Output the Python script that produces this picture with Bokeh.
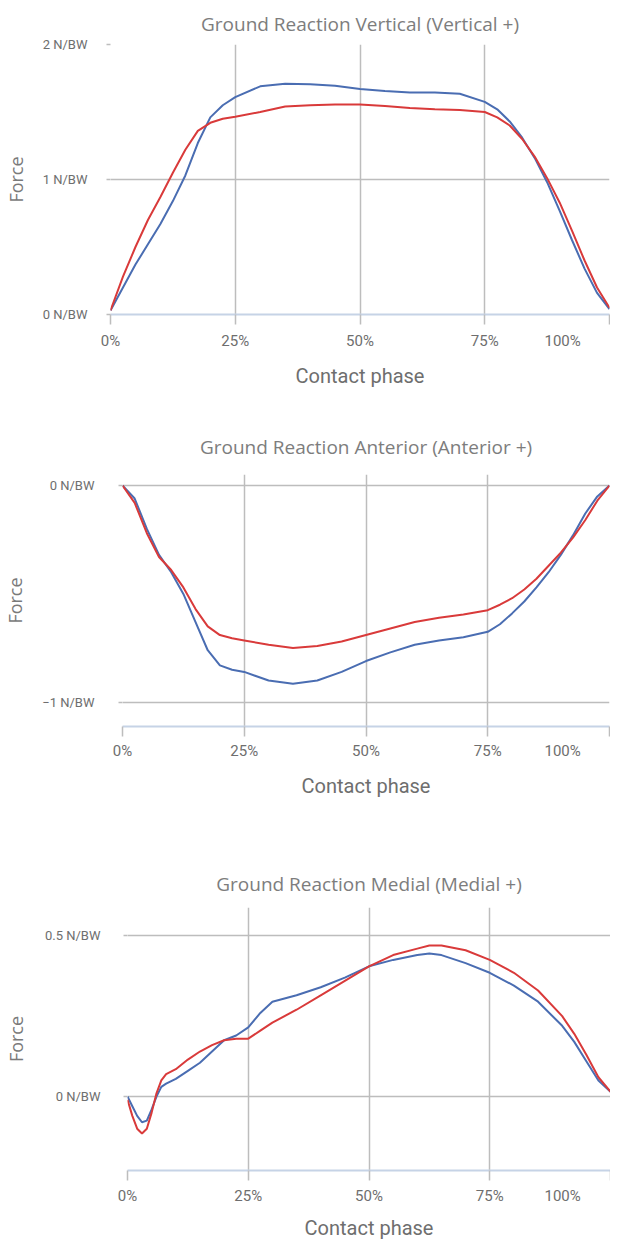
from bokeh.plotting import figure
from bokeh.models import FixedTicker, Range1d
from bokeh.embed import file_html
from bokeh.resources import INLINE

# ---------------- data ----------------
x_vert = [0, 2.5, 5, 7.5, 10, 12.5, 15, 17.5, 20, 22.5, 25, 30, 35, 40, 45, 50, 55, 60, 65, 70,
          75, 77.5, 80, 82.5, 85, 87.5, 90, 92.5, 95, 97.5, 100]
vert_blue = [0.03, 0.2, 0.37, 0.52, 0.67, 0.84, 1.03, 1.27, 1.46, 1.55, 1.61, 1.69, 1.71, 1.705, 1.695,
             1.67, 1.655, 1.645, 1.645, 1.635, 1.575, 1.52, 1.43, 1.31, 1.16, 0.98, 0.77, 0.55, 0.34, 0.16, 0.04]
vert_red = [0.03, 0.28, 0.5, 0.7, 0.87, 1.05, 1.22, 1.36, 1.42, 1.45, 1.465, 1.5, 1.54, 1.55, 1.555,
            1.555, 1.545, 1.53, 1.52, 1.515, 1.5, 1.46, 1.4, 1.3, 1.17, 1.01, 0.83, 0.62, 0.4, 0.2, 0.05]

x_ant = [0, 2.5, 5, 7.5, 10, 12.5, 15, 17.5, 20, 22.5, 25, 30, 35, 40, 45, 50, 55, 60, 65, 70,
         75, 77.5, 80, 82.5, 85, 87.5, 90, 92.5, 95, 97.5, 100]
ant_blue = [0, -0.06, -0.2, -0.32, -0.4, -0.5, -0.63, -0.76, -0.83, -0.85, -0.86, -0.9, -0.915, -0.9, -0.86,
            -0.81, -0.77, -0.735, -0.715, -0.7, -0.675, -0.64, -0.59, -0.535, -0.47, -0.4, -0.32, -0.23,
            -0.13, -0.05, 0]
ant_red = [0, -0.08, -0.22, -0.33, -0.39, -0.47, -0.57, -0.65, -0.69, -0.705, -0.715, -0.735, -0.75, -0.74,
           -0.72, -0.69, -0.66, -0.63, -0.61, -0.595, -0.575, -0.55, -0.52, -0.48, -0.43, -0.37, -0.31,
           -0.24, -0.16, -0.07, 0]

x_med = [0, 1, 2, 3, 4, 5, 6, 7, 8, 10, 12.5, 15, 17.5, 20, 22.5, 25, 27.5, 30, 35, 40, 45, 50, 55, 60,
         62.5, 65, 70, 75, 80, 85, 90, 92.5, 95, 97.5, 100]
med_blue = [0.0, -0.03, -0.06, -0.08, -0.075, -0.04, 0.0, 0.03, 0.04, 0.055, 0.08, 0.105, 0.14, 0.175, 0.19,
            0.215, 0.26, 0.295, 0.315, 0.34, 0.37, 0.405, 0.425, 0.44, 0.445, 0.44, 0.415, 0.385, 0.345,
            0.295, 0.22, 0.17, 0.11, 0.05, 0.015]
med_red = [-0.01, -0.06, -0.1, -0.115, -0.1, -0.05, 0.01, 0.05, 0.07, 0.085, 0.115, 0.14, 0.16, 0.175, 0.18,
           0.18, 0.205, 0.23, 0.27, 0.315, 0.36, 0.405, 0.44, 0.46, 0.47, 0.47, 0.455, 0.425, 0.385, 0.33,
           0.25, 0.195, 0.13, 0.06, 0.015]

x_ticks = [0, 25, 50, 75, 100]
x_tick_labels = ["0%", "25%", "50%", "75%", "100%"]

titles = ["Ground Reaction Vertical (Vertical +)",
          "Ground Reaction Anterior (Anterior +)",
          "Ground Reaction Medial (Medial +)"]
y_ticks = [[0, 1, 2], [-1, 0], [0, 0.5]]
y_tick_labels = [["0 N/BW", "1 N/BW", "2 N/BW"], ["\u22121 N/BW", "0 N/BW"], ["0 N/BW", "0.5 N/BW"]]

BLUE = "#4a6db2"
RED = "#d93a3a"
GRID = "#bdbdbd"
TICKFONT = "Roboto"
W = 610


def make(i, xs, blue, red, y0, y1, left, right, top, bottom, total_h, standoff,
         y_label_standoff, y_tick_standoff, last_pad, x_tick_standoff, x_label_standoff):
    p = figure(width=W, height=total_h,
               output_backend="svg", toolbar_location=None,
               x_range=Range1d(0, 100), y_range=Range1d(y0, y1),
               min_border_left=left, min_border_top=top, min_border_bottom=bottom, min_border_right=right)
    p.title.text = titles[i]
    p.title.align = "center"
    p.title.text_font = "Open Sans"
    p.title.text_font_size = "19px"
    p.title.text_font_style = "normal"
    p.title.text_color = "#7d7d7d"
    p.title.standoff = standoff
    p.outline_line_color = None
    p.background_fill_color = "white"

    p.xgrid.ticker = FixedTicker(ticks=x_ticks)
    p.ygrid.ticker = FixedTicker(ticks=y_ticks[i])
    for g in (p.xgrid, p.ygrid):
        g.grid_line_color = GRID
        g.grid_line_width = 1.5

    labels = list(x_tick_labels)
    labels[-1] = labels[-1] + "\u00a0" * last_pad
    xa = p.xaxis[0]
    xa.ticker = FixedTicker(ticks=x_ticks)
    xa.major_label_overrides = {t: l for t, l in zip(x_ticks, labels)}
    xa.axis_line_color = "#c6d3e6"
    xa.axis_line_width = 2
    xa.major_tick_line_color = GRID
    xa.major_tick_line_width = 1.5
    xa.major_tick_out = 10
    xa.major_tick_in = 0
    xa.minor_tick_line_color = None
    xa.major_label_text_font = TICKFONT
    xa.major_label_text_font_size = "15px"
    xa.major_label_text_color = "#6e6e6e"
    xa.major_label_standoff = x_tick_standoff
    xa.axis_label = "Contact phase"
    xa.axis_label_text_font = TICKFONT
    xa.axis_label_text_font_size = "20px"
    xa.axis_label_text_font_style = "normal"
    xa.axis_label_text_color = "#6e6e6e"
    xa.axis_label_standoff = x_label_standoff

    ya = p.yaxis[0]
    ya.ticker = FixedTicker(ticks=y_ticks[i])
    ya.major_label_overrides = {t: l for t, l in zip(y_ticks[i], y_tick_labels[i])}
    ya.axis_line_color = None
    ya.major_tick_line_color = GRID
    ya.major_tick_line_width = 1.5
    ya.major_tick_out = 4
    ya.major_tick_in = 0
    ya.minor_tick_line_color = None
    ya.major_label_text_font = TICKFONT
    ya.major_label_text_font_size = "13px"
    ya.major_label_text_color = "#6e6e6e"
    ya.major_label_standoff = y_tick_standoff
    ya.axis_label = "Force"
    ya.axis_label_text_font = "Open Sans"
    ya.axis_label_text_font_size = "18px"
    ya.axis_label_text_font_style = "normal"
    ya.axis_label_text_color = "#7a7a7a"
    ya.axis_label_standoff = y_label_standoff

    p.line(xs, blue, line_color=BLUE, line_width=2)
    p.line(xs, red, line_color=RED, line_width=2)
    return p


p1 = make(0, x_vert, vert_blue, vert_red, 0, 2, 105, 1, 38, 80, 394, 16, 12, 19, 8, 7, 11)
p2 = make(1, x_ant, ant_blue, ant_red, -1.112, 0.051, 115, 1, 80, 80, 412, 30, 12, 24, 8, 5, 11)
p3 = make(2, x_med, med_blue, med_red, -0.23, 0.588, 122, 0, 101, 66, 436, 22, 14, 23, 8, 6, 8)

open("out.html", "w").write(file_html([p1, p2, p3], INLINE))
